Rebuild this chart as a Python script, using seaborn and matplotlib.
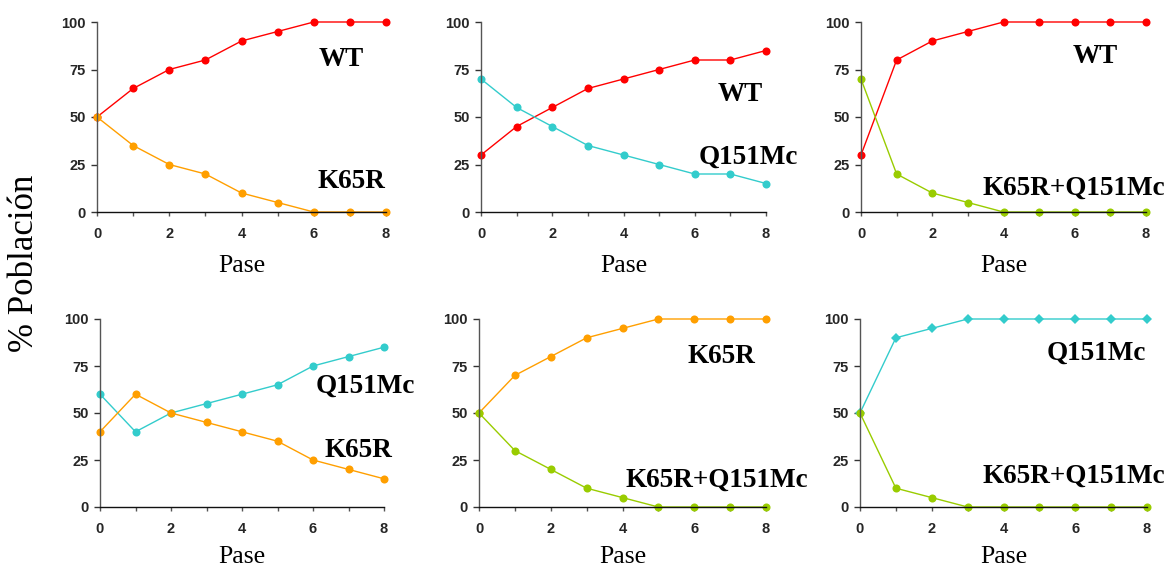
import matplotlib
matplotlib.use("Agg")
import matplotlib.pyplot as plt
import seaborn as sns
import pandas as pd

sns.set_theme(style="white")

# ---------------- data ----------------
pase = [0, 1, 2, 3, 4, 5, 6, 7, 8]
x_tick_labels = ["0", "", "2", "", "4", "", "6", "", "8"]
y_ticks = [0, 25, 50, 75, 100]

# Panel 1
p1_wt = [50, 65, 75, 80, 90, 95, 100, 100, 100]
p1_k65r = [50, 35, 25, 20, 10, 5, 0, 0, 0]
# Panel 2
p2_wt = [30, 45, 55, 65, 70, 75, 80, 80, 85]
p2_q151 = [70, 55, 45, 35, 30, 25, 20, 20, 15]
# Panel 3
p3_wt = [30, 80, 90, 95, 100, 100, 100, 100, 100]
p3_kq = [70, 20, 10, 5, 0, 0, 0, 0, 0]
# Panel 4
p4_q151 = [60, 40, 50, 55, 60, 65, 75, 80, 85]
p4_k65r = [40, 60, 50, 45, 40, 35, 25, 20, 15]
# Panel 5
p5_k65r = [50, 70, 80, 90, 95, 100, 100, 100, 100]
p5_kq = [50, 30, 20, 10, 5, 0, 0, 0, 0]
# Panel 6
p6_q151 = [50, 90, 95, 100, 100, 100, 100, 100, 100]
p6_kq = [50, 10, 5, 0, 0, 0, 0, 0, 0]

RED = "#FF0000"
ORANGE = "#FF9F00"
CYAN = "#33CCCC"
GREEN = "#99CC00"

# (values, color, marker) per panel, plus labels (text, x, y)
panels = [
    ([(p1_wt, RED, "o"), (p1_k65r, ORANGE, "o")],
     [("WT", 6.75, 80), ("K65R", 7.05, 16)]),
    ([(p2_wt, RED, "o"), (p2_q151, CYAN, "o")],
     [("WT", 7.27, 62), ("Q151Mc", 7.5, 29)]),
    ([(p3_wt, RED, "o"), (p3_kq, GREEN, "o")],
     [("WT", 6.57, 82), ("K65R+Q151Mc", 5.98, 12.5)]),
    ([(p4_q151, CYAN, "o"), (p4_k65r, ORANGE, "o")],
     [("Q151Mc", 7.46, 64), ("K65R", 7.27, 30)]),
    ([(p5_k65r, ORANGE, "o"), (p5_kq, GREEN, "o")],
     [("K65R", 6.77, 80), ("K65R+Q151Mc", 6.63, 14.5)]),
    ([(p6_q151, CYAN, "D"), (p6_kq, GREEN, "o")],
     [("Q151Mc", 6.6, 82), ("K65R+Q151Mc", 5.97, 16.5)]),
]

W, H = 1168, 569
fig = plt.figure(figsize=(W / 100, H / 100), dpi=100)
fig.patch.set_facecolor("white")

# axes boxes in pixels: (x0, x8, y_bottom(0), y_top(100))
boxes = [
    (97, 386, 212, 22), (481, 766, 212, 22), (861, 1146, 212, 22),
    (100, 384, 507, 319), (479, 766, 507, 319), (860, 1147, 507, 319),
]

for i, ((series, labels), (xl, xr, yb, yt)) in enumerate(zip(panels, boxes)):
    ax = fig.add_axes([xl / W, (H - yb) / H, (xr - xl) / W, (yb - yt) / H])
    ax.set_facecolor("white")
    for vals, col, mk in series:
        df = pd.DataFrame({"Pase": pase, "Pct": vals})
        ms = 5.8 if mk == "o" else 5.0
        sns.lineplot(data=df, x="Pase", y="Pct", ax=ax, color=col, marker=mk,
                     markersize=ms, markeredgewidth=0, linewidth=1.0)
    for ln in ax.lines:
        ln.set_clip_on(False)
    ax.set_xlim(0, 8)
    ax.set_ylim(0, 100)
    ax.set_xticks(pase)
    ax.set_xticklabels(x_tick_labels, fontfamily="Liberation Sans",
                       fontweight="bold", fontsize=10.5)
    ax.set_yticks(y_ticks)
    ax.set_yticklabels([str(v) for v in y_ticks], fontfamily="Liberation Sans",
                       fontweight="bold", fontsize=10.5)
    ax.tick_params(axis="x", direction="out", length=3, width=1, color="#555555",
                   pad=8, bottom=True)
    ax.tick_params(axis="y", direction="out", length=4, width=1, color="#333333",
                   pad=4, left=True)
    for s in ["top", "right"]:
        ax.spines[s].set_visible(False)
    ax.spines["left"].set_color("#555555")
    ax.spines["bottom"].set_color("#111111")
    ax.spines["left"].set_linewidth(1)
    ax.spines["bottom"].set_linewidth(1)
    ax.set_ylabel("")
    ax.set_xlabel("Pase", fontfamily="Liberation Serif", fontsize=18.5,
                  labelpad=10 if i < 3 else 7, color="black")
    for txt, tx, ty in labels:
        ax.text(tx, ty, txt, fontfamily="Liberation Serif", fontweight="bold",
                fontsize=19.5, ha="center", va="center", color="black")

fig.text(25 / W, 1 - 263 / H, "% Población", rotation=90, ha="center",
         va="center", fontfamily="Liberation Serif", fontsize=25, color="black")

fig.savefig("out.png", dpi=100, facecolor="white")
